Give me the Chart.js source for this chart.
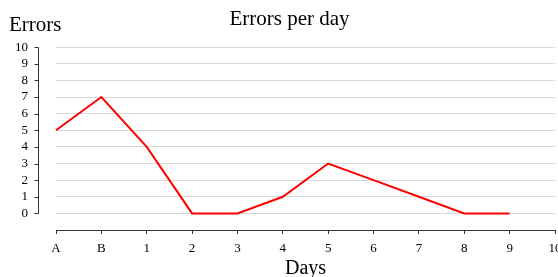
<!DOCTYPE html>
<html>
<head>
<meta charset="utf-8">
<script src="https://cdn.jsdelivr.net/npm/chart.js@4/dist/chart.umd.min.js"></script>
<style>
    html, body { margin: 0; padding: 0; background: #fff; }
    #wrap { width: 558px; height: 277px; overflow: hidden; position: relative; }
    #wrap canvas { position: absolute; left: 0; top: 0; }
</style>
</head>
<body>
<div id="wrap"><canvas id="errorsChart" width="569" height="290"></canvas></div>
<script>
// Chart data
const days = ['A', 'B', '1', '2', '3', '4', '5', '6', '7', '8', '9', '10'];
const errors = [5, 7, 4, 0, 0, 1, 3, 2, 1, 0, 0];
const yTicks = [0, 1, 2, 3, 4, 5, 6, 7, 8, 9, 10];

const serif = "'Liberation Serif', 'Times New Roman', serif";
const axisColor = '#333333';

// Draws the detached y axis line with its tick marks, and the "Errors" label
const offsetYAxis = {
    id: 'offsetYAxis',
    afterDraw(chart) {
        const ctx = chart.ctx;
        const y = chart.scales.y;
        const x0 = 38.5;
        ctx.save();
        ctx.strokeStyle = axisColor;
        ctx.lineWidth = 1;
        ctx.beginPath();
        ctx.moveTo(x0, Math.round(y.getPixelForValue(yTicks[yTicks.length - 1])) + 0.5);
        ctx.lineTo(x0, Math.round(y.getPixelForValue(yTicks[0])) + 0.5);
        yTicks.forEach(v => {
            const py = Math.round(y.getPixelForValue(v)) + 0.5;
            ctx.moveTo(x0 - 4, py);
            ctx.lineTo(x0, py);
        });
        ctx.stroke();

        ctx.fillStyle = '#000';
        ctx.font = '21px ' + serif;
        ctx.textAlign = 'left';
        ctx.textBaseline = 'alphabetic';
        ctx.fillText('Errors', 9, 31);
        ctx.restore();
    }
};

const ctx = document.getElementById('errorsChart').getContext('2d');
new Chart(ctx, {
    type: 'line',
    data: {
        labels: days,
        datasets: [{
            label: 'Errors',
            data: errors,
            borderColor: '#ff0000',
            borderWidth: 2,
            pointRadius: 0,
            tension: 0,
            fill: false
        }]
    },
    options: {
        responsive: false,
        animation: false,
        layout: {
            padding: { left: 10, right: 0, top: 0, bottom: 0 }
        },
        plugins: {
            legend: { display: false },
            tooltip: { enabled: false },
            title: {
                display: true,
                text: 'Errors per day',
                color: '#000',
                font: { family: serif, size: 21, weight: 'normal' },
                padding: { top: 7, bottom: 15 }
            }
        },
        scales: {
            x: {
                offset: false,
                grid: {
                    drawOnChartArea: false,
                    drawTicks: true,
                    tickLength: 4,
                    color: axisColor
                },
                border: { display: true, color: axisColor, width: 1 },
                ticks: {
                    color: '#000',
                    font: { family: serif, size: 13 },
                    padding: 7,
                    maxRotation: 0,
                    autoSkip: false
                },
                title: {
                    display: true,
                    text: 'Days',
                    color: '#000',
                    font: { family: serif, size: 20 },
                    padding: { top: 0, bottom: 9 }
                },
                afterFit(scale) {
                    scale.height = 60;
                }
            },
            y: {
                min: -1,
                max: 10,
                grid: {
                    drawTicks: false,
                    color: c => (c.tick && c.tick.value < 0 ? 'rgba(0,0,0,0)' : '#d9d9d9')
                },
                border: { display: false },
                ticks: {
                    stepSize: 1,
                    autoSkip: false,
                    color: '#000',
                    padding: 28,
                    font: { family: serif, size: 13 },
                    callback: v => (yTicks.includes(v) ? v : '')
                },
                afterFit(scale) {
                    scale.width = 46;
                }
            },
            // empty right-hand spacer so the plot ends where the reference does
            spacer: {
                type: 'linear',
                position: 'right',
                grid: { display: false },
                border: { display: false },
                ticks: { display: false },
                afterFit(scale) {
                    scale.width = 14;
                }
            }
        }
    },
    plugins: [offsetYAxis]
});
</script>
</body>
</html>
